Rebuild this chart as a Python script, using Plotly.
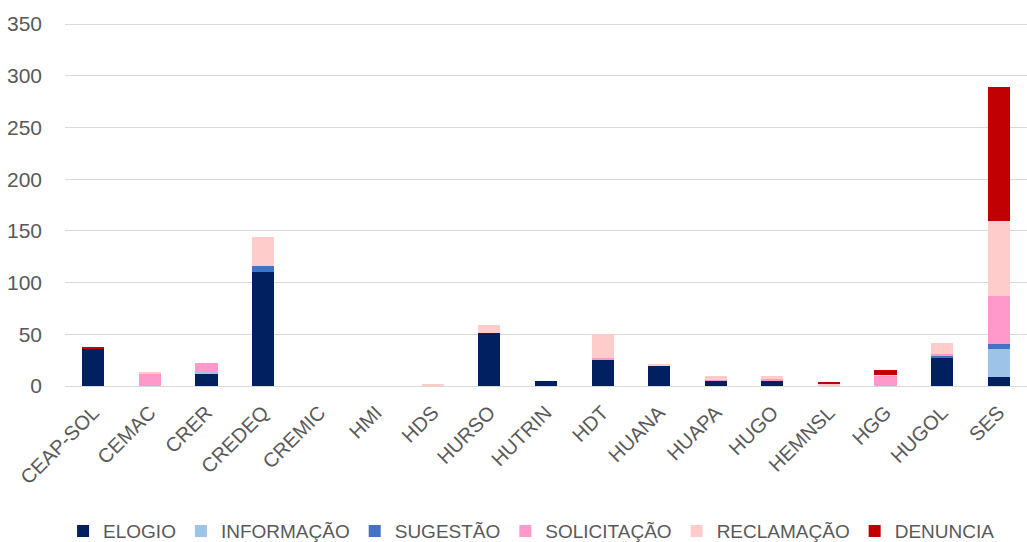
import plotly.graph_objects as go

categories = ["CEAP-SOL", "CEMAC", "CRER", "CREDEQ", "CREMIC", "HMI", "HDS", "HURSO",
              "HUTRIN", "HDT", "HUANA", "HUAPA", "HUGO", "HEMNSL", "HGG", "HUGOL", "SES"]

elogio      = [36, 0, 12, 110, 0, 0, 0, 51, 5, 25, 20, 5, 5, 0, 0, 28, 9]
informacao  = [0, 0, 2, 0, 0, 0, 0, 0, 0, 0, 0, 0, 0, 0, 0, 0, 27]
sugestao    = [0, 0, 0, 6, 0, 0, 0, 0, 0, 0, 0, 0, 0, 0, 0, 1, 5]
solicitacao = [0, 12, 8, 0, 0, 0, 0, 0, 0, 2, 0, 1, 2, 0, 10, 2, 46]
reclamacao  = [0, 1, 0, 28, 0, 0, 2, 8, 0, 23, 1, 4, 3, 2, 1, 11, 73]
denuncia    = [2, 0, 0, 0, 0, 0, 0, 0, 0, 0, 0, 0, 0, 2, 4, 0, 129]

series = [
    ("ELOGIO", elogio, "#002060"),
    ("INFORMAÇÃO", informacao, "#9DC3E6"),
    ("SUGESTÃO", sugestao, "#4472C4"),
    ("SOLICITAÇÃO", solicitacao, "#FF99CC"),
    ("RECLAMAÇÃO", reclamacao, "#FFCCCC"),
    ("DENUNCIA", denuncia, "#C00000"),
]

font_family = "Liberation Sans, Arial, sans-serif"
gray = "#595959"

fig = go.Figure()
for name, vals, color in series:
    fig.add_trace(go.Bar(name=name, x=categories, y=vals,
                         marker=dict(color=color, line=dict(width=0))))

fig.update_layout(
    barmode="stack",
    bargap=0.61,
    width=1027, height=542,
    margin=dict(l=65, r=0, t=23, b=156, autoexpand=False),
    plot_bgcolor="white", paper_bgcolor="white",
    font=dict(family=font_family, size=19, color=gray),
    legend=dict(orientation="h", x=0.485, xanchor="center", y=-0.40, yanchor="middle",
                font=dict(size=19, color=gray), traceorder="normal",
                itemwidth=30),
    xaxis=dict(tickangle=-45, showgrid=False, showline=False, ticks="", automargin=False,
               tickfont=dict(size=20, color=gray), ticklabelstandoff=10),
    yaxis=dict(range=[0, 351], tickvals=[0, 50, 100, 150, 200, 250, 300, 350],
               showgrid=True, gridcolor="#d9d9d9", automargin=False,
               gridwidth=1, zeroline=True, zerolinecolor="#d9d9d9", zerolinewidth=1,
               showline=False, ticks="", tickfont=dict(size=21, color=gray),
               ticklabelstandoff=22),
)

fig.write_html("out.html", config={"displayModeBar": False},
               post_script="document.body.style.margin='0';document.body.style.overflow='hidden';")
